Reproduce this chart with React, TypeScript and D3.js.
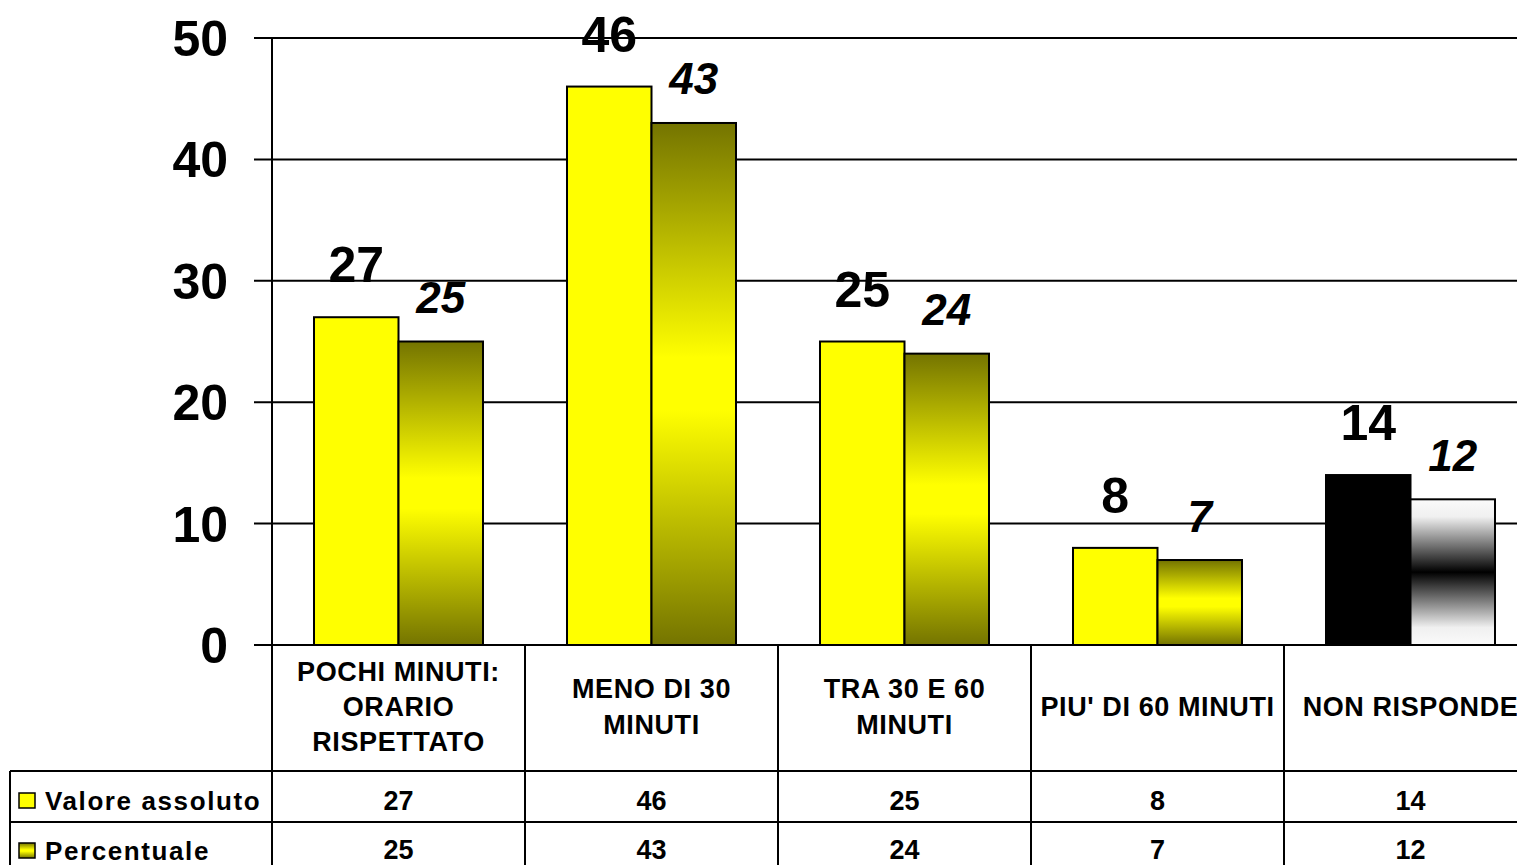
import React from "react";
import * as d3 from "d3";

const categories: string[][] = [
  ["POCHI MINUTI:", "ORARIO", "RISPETTATO"],
  ["MENO DI 30", "MINUTI"],
  ["TRA 30 E 60", "MINUTI"],
  ["PIU' DI 60 MINUTI"],
  ["NON RISPONDE"],
];
const valoreAssoluto = [27, 46, 25, 8, 14];
const percentuale = [25, 43, 24, 7, 12];
const yTicks = [0, 10, 20, 30, 40, 50];
const seriesNames = ["Valore assoluto", "Percentuale"];

const W = 1517;
const H = 865;
const FONT = "'Liberation Sans', Arial, Helvetica, sans-serif";

export default function App() {
  const plotLeft = 272;
  const plotRight = 272 + 5 * 253;
  const y = d3.scaleLinear().domain([0, 50]).range([645, 38]);
  const x = d3
    .scaleBand<number>()
    .domain(d3.range(categories.length))
    .range([plotLeft, plotRight])
    .paddingInner(0.332)
    .paddingOuter(0.166);
  const sub = d3.scaleBand<number>().domain([0, 1]).range([0, x.bandwidth()]);
  const step = x.step();
  const rowTop1 = 771;
  const rowTop2 = 822;
  const lastIsSpecial = (i: number) => i === categories.length - 1;

  return (
    <div style={{ position: "absolute", left: 0, top: 0, width: W, height: H, overflow: "hidden", background: "#fff" }}>
      <svg width={W} height={H} style={{ display: "block" }} fontFamily={FONT}>
        <defs>
          <linearGradient id="olive" x1="0" y1="0" x2="0" y2="1">
            <stop offset="0" stopColor="#747400" />
            <stop offset="0.45" stopColor="#ffff00" />
            <stop offset="0.55" stopColor="#ffff00" />
            <stop offset="1" stopColor="#747400" />
          </linearGradient>
          <linearGradient id="gray" x1="0" y1="0" x2="0" y2="1">
            <stop offset="0" stopColor="#fafafa" />
            <stop offset="0.12" stopColor="#f0f0f0" />
            <stop offset="0.5" stopColor="#000000" />
            <stop offset="0.88" stopColor="#f0f0f0" />
            <stop offset="1" stopColor="#fafafa" />
          </linearGradient>
        </defs>
        <rect width={W} height={H} fill="#fff" />
        {yTicks.map((t) => (
          <line key={"g" + t} x1={254} x2={W} y1={y(t)} y2={y(t)} stroke="#000" strokeWidth={2} />
        ))}
        {yTicks.map((t) => (
          <text key={"t" + t} x={228} y={y(t) + 18} textAnchor="end" fontSize={50} fontWeight="bold">
            {t}
          </text>
        ))}
        {categories.map((_, i) => {
          const x0 = x(i)!;
          const v = valoreAssoluto[i];
          const p = percentuale[i];
          const fill1 = lastIsSpecial(i) ? "#000000" : "#ffff00";
          const fill2 = lastIsSpecial(i) ? "url(#gray)" : "url(#olive)";
          return (
            <g key={"b" + i}>
              <rect x={x0 + sub(0)!} y={y(v)} width={sub.bandwidth()} height={y(0) - y(v)} fill={fill1} stroke="#000" strokeWidth={2} />
              <rect x={x0 + sub(1)!} y={y(p)} width={sub.bandwidth()} height={y(0) - y(p)} fill={fill2} stroke="#000" strokeWidth={2} />
              <text x={x0 + sub(0)! + sub.bandwidth() / 2} y={y(v) - 35} textAnchor="middle" fontSize={50} fontWeight="bold">
                {v}
              </text>
              <text x={x0 + sub(1)! + sub.bandwidth() / 2} y={y(p) - 28.5} textAnchor="middle" fontSize={44} fontWeight="bold" fontStyle="italic">
                {p}
              </text>
            </g>
          );
        })}
        <line x1={plotLeft} x2={plotLeft} y1={y(50)} y2={H} stroke="#000" strokeWidth={2} />
        <line x1={254} x2={W} y1={y(0)} y2={y(0)} stroke="#000" strokeWidth={2} />
        <line x1={10} x2={W} y1={rowTop1} y2={rowTop1} stroke="#000" strokeWidth={2} />
        <line x1={10} x2={W} y1={rowTop2} y2={rowTop2} stroke="#000" strokeWidth={2} />
        <line x1={10} x2={10} y1={rowTop1} y2={H} stroke="#000" strokeWidth={2} />
        {categories.map((_, i) =>
          i === 0 ? null : (
            <line key={"v" + i} x1={plotLeft + i * step} x2={plotLeft + i * step} y1={y(0)} y2={H} stroke="#000" strokeWidth={2} />
          )
        )}
        {categories.map((lines, i) => {
          const cx = plotLeft + i * step + step / 2;
          const lh = lines.length === 3 ? 35 : 36;
          const center = 716 - ((lines.length - 1) * lh) / 2;
          return (
            <g key={"c" + i}>
              {lines.map((ln, k) => (
                <text key={k} x={cx} y={center + k * lh} textAnchor="middle" fontSize={27} fontWeight="bold" letterSpacing={0.6}>
                  {ln}
                </text>
              ))}
              <text x={cx} y={810} textAnchor="middle" fontSize={27} fontWeight="bold">
                {valoreAssoluto[i]}
              </text>
              <text x={cx} y={859} textAnchor="middle" fontSize={27} fontWeight="bold">
                {percentuale[i]}
              </text>
            </g>
          );
        })}
        <rect x={19} y={793} width={16} height={15} fill="#ffff00" stroke="#000" strokeWidth={1.5} />
        <rect x={19} y={843} width={16} height={15} fill="url(#olive)" stroke="#000" strokeWidth={1.5} />
        <text x={45} y={810} fontSize={26} fontWeight="bold" letterSpacing={1.6}>
          {seriesNames[0]}
        </text>
        <text x={45} y={860} fontSize={26} fontWeight="bold" letterSpacing={1.6}>
          {seriesNames[1]}
        </text>
      </svg>
    </div>
  );
}
